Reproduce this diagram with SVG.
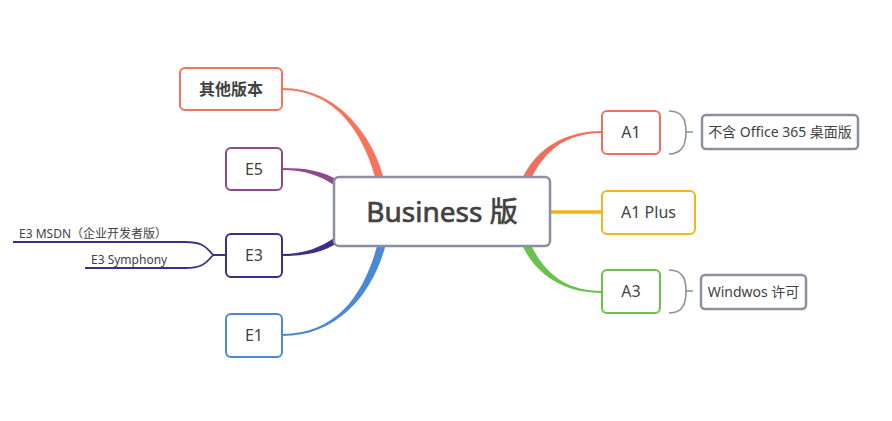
<svg xmlns="http://www.w3.org/2000/svg" width="892" height="421" viewBox="0 0 892 421">
<style>
text{font-family:"Noto Sans","Noto Sans CJK SC",sans-serif;fill:#424242;}
.n{fill:#fff;stroke-width:2;}
.t{font-size:16px;text-anchor:middle;}
.s{font-size:12px;}
.br{fill:none;stroke:#8f9098;stroke-width:1.6;}
.g{fill:#fff;stroke:#8c8fa0;stroke-width:2.5;}
</style>
<rect width="892" height="421" fill="#fff"/>
<g id="connectors">
<path d="M282,90 C340,90 366.1,141 376.1,181 L383.9,179 C373.9,139 340,88 282,88 Z" fill="#f8735d"/>
<path d="M282,170 C305,170 320.3,175.5 336.3,186.5 L339.7,181.5 C323.7,170.5 305,168 282,168 Z" fill="#8f4a8c"/>
<path d="M282,256 C305,256 323.7,252.5 339.7,241.5 L336.3,236.5 C320.3,247.5 305,254 282,254 Z" fill="#3d2e8c"/>
<path d="M282,336 C340,336 373.9,291 385.9,244 L378.1,242 C366.1,289 340,334 282,334 Z" fill="#4a89d6"/>
<path d="M602,131 C565,131 536.4,148.3 522.4,178.3 L529.6,181.7 C543.6,151.7 565,133 602,133 Z" fill="#f06e5c"/>
<path d="M602,291 C565,291 543.6,272.3 529.6,242.3 L522.4,245.7 C536.4,275.7 565,293 602,293 Z" fill="#6cc04c"/>
<line x1="548" y1="212" x2="602" y2="212" stroke="#f2b31a" stroke-width="3.5"/>
<path d="M226,255 L213,255 C205,245 200,242 185,242 L13,242 M213,255 C205,265 200,268 185,268 L85,268" fill="none" stroke="#3d2e8c" stroke-width="1.8"/>
<path class="br" d="M669,111 C684,111 686,122 686,132 C686,142 684,154 669,154 M686,132 L693,132"/>
<path class="br" d="M669,270 C684,270 686,281 686,291 C686,302 684,313 669,313 M686,291 L693,291"/>
</g>
<g id="center">
<rect x="334" y="177" width="216" height="69" rx="5" class="g"/>
<text x="442" y="222" font-size="28" stroke="#424242" stroke-width="0.7" text-anchor="middle">Business 版</text>
</g>
<g id="other">
<rect x="180" y="68" width="102" height="42" rx="5" class="n" stroke="#f1745f"/>
<text x="231" y="95" class="t" font-weight="bold">其他版本</text>
</g>
<g id="e5">
<rect x="226" y="148" width="56" height="42" rx="5" class="n" stroke="#8f4a8c"/>
<text x="254" y="175" class="t">E5</text>
</g>
<g id="e3">
<rect x="226" y="234" width="56" height="43" rx="5" class="n" stroke="#3d2e8c"/>
<text x="254" y="261" class="t">E3</text>
</g>
<g id="e1">
<rect x="226" y="314" width="56" height="43" rx="5" class="n" stroke="#4a89d6"/>
<text x="254" y="341" class="t">E1</text>
</g>
<g id="e3-msdn"><text x="19" y="238" class="s">E3 MSDN（企业开发者版）</text></g>
<g id="e3-symphony"><text x="91" y="264" class="s">E3 Symphony</text></g>
<g id="a1">
<rect x="602" y="111" width="58" height="43" rx="5" class="n" stroke="#ec7260"/>
<text x="631" y="138" class="t">A1</text>
</g>
<g id="a1plus">
<rect x="602" y="191" width="93" height="43" rx="5" class="n" stroke="#f1b719"/>
<text x="648.5" y="218" class="t">A1 Plus</text>
</g>
<g id="a3">
<rect x="602" y="270" width="58" height="43" rx="5" class="n" stroke="#6cc04c"/>
<text x="631" y="297" class="t">A3</text>
</g>
<g id="a1-note">
<rect x="702" y="115" width="156" height="34" rx="4" class="g"/>
<text x="780" y="137" font-size="14" text-anchor="middle">不含 Office 365 桌面版</text>
</g>
<g id="a3-note">
<rect x="701" y="275" width="105" height="34" rx="4" class="g"/>
<text x="753.5" y="297" font-size="14" text-anchor="middle">Windwos 许可</text>
</g>
</svg>
